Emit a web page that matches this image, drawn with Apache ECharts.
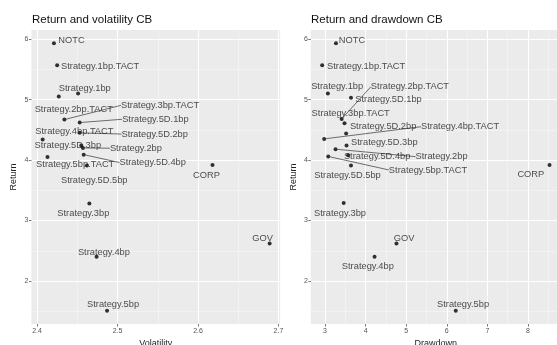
<!DOCTYPE html>
<html><head><meta charset="utf-8">
<script src="https://cdn.jsdelivr.net/npm/echarts@6/dist/echarts.min.js"></script>
<style>html,body{margin:0;padding:0;background:#fff}#c{width:557px;height:345px}</style>
</head><body><div id="c"></div>
<script>
// ---- data ----
const names = ['NOTC','Strategy.1bp.TACT','Strategy.1bp','Strategy.2bp.TACT','Strategy.3bp.TACT','Strategy.5D.1bp','Strategy.5D.2bp','Strategy.4bp.TACT','Strategy.5D.3bp','Strategy.2bp','Strategy.5D.4bp','Strategy.5bp.TACT','Strategy.5D.5bp','CORP','Strategy.3bp','GOV','Strategy.4bp','Strategy.5bp'];
// left panel: volatility vs return
const volatility = [2.421,2.425,2.451,2.427,2.434,2.453,2.453,2.407,2.455,2.457,2.458,2.413,2.462,2.618,2.465,2.689,2.474,2.487];
const volReturn  = [5.93,5.57,5.10,5.05,4.67,4.62,4.45,4.34,4.24,4.20,4.09,4.05,3.91,3.92,3.28,2.62,2.40,1.51];
// right panel: drawdown vs return
const drawdown   = [3.27,2.93,3.07,3.41,3.48,3.64,3.52,2.98,3.53,3.26,3.57,3.08,3.64,8.53,3.46,4.76,4.22,6.22];
const ddReturn   = [5.93,5.57,5.10,4.68,4.61,5.03,4.44,4.35,4.24,4.18,4.08,4.06,3.91,3.92,3.29,2.62,2.40,1.51];
// tick labels
const volTicks = [2.4,2.5,2.6,2.7];
const ddTicks  = [3,4,5,6,7,8];
const retTicks = [2,3,4,5,6];

// ---- label placement (style only, px offsets of label centre from its point) ----
const volLabelOffsets = {
 'NOTC':[17.5,-4],'Strategy.1bp.TACT':[43,0],'Strategy.1bp':[6.7,-6.7],'Strategy.2bp.TACT':[15,11],
 'Strategy.3bp.TACT':[95.7,-15.7],'Strategy.5D.1bp':[75.7,-4.8],'Strategy.5D.2bp':[75,-0.3],
 'Strategy.4bp.TACT':[31.7,-9.7],'Strategy.5D.3bp':[-13.5,-2],'Strategy.2bp':[53,-1.3],
 'Strategy.5D.4bp':[69,6.4],'Strategy.5bp.TACT':[27.7,6.3],'Strategy.5D.5bp':[7.3,13],
 'CORP':[-6,9],'Strategy.3bp':[-6,8.3],'GOV':[-7,-6.7],'Strategy.4bp':[7.3,-6],'Strategy.5bp':[6,-7.3]
};
const volSegments = ['Strategy.3bp.TACT','Strategy.5D.1bp','Strategy.5D.2bp','Strategy.2bp','Strategy.5D.4bp'];
const ddLabelOffsets = {
 'NOTC':[16,-4],'Strategy.1bp.TACT':[44,0],'Strategy.1bp':[9.3,-8.7],'Strategy.2bp.TACT':[68.3,-33.7],
 'Strategy.3bp.TACT':[6.2,-11.3],'Strategy.5D.1bp':[37.5,0.3],'Strategy.5D.2bp':[37,-8.7],
 'Strategy.4bp.TACT':[135.9,-13.7],'Strategy.5D.3bp':[37.8,-4.3],'Strategy.2bp':[106,6],
 'Strategy.5D.4bp':[29,0],'Strategy.5bp.TACT':[99.7,12],'Strategy.5D.5bp':[-3.5,8.7],
 'CORP':[-18.7,8.3],'Strategy.3bp':[-3.7,9],'GOV':[7.7,-6.7],'Strategy.4bp':[-6.7,8.3],'Strategy.5bp':[7.3,-7.4]
};
const ddSegments = ['Strategy.2bp.TACT','Strategy.4bp.TACT','Strategy.2bp','Strategy.5bp.TACT'];
const LABEL_DY = 1.5;

const FONT = '"Liberation Sans", Arial, sans-serif';

function buildData(xs, ys, segs){
  return names.map((n,i)=>({name:n, value:[xs[i], ys[i]], labelLine:{show: segs.indexOf(n)>=0}}));
}
function layoutFn(offsets){
  return function(p){ const o = offsets[names[p.dataIndex]] || [0,0]; return {dx:o[0], dy:o[1] + LABEL_DY}; };
}
function xAxisCfg(gi, min, max, split, ticks, title){
  return {
    type:'value', gridIndex:gi, min:min, max:max, splitNumber:split,
    name:title, nameLocation:'middle', nameGap:13.5,
    nameTextStyle:{fontSize:9, color:'#222', fontFamily:FONT},
    axisLine:{show:false},
    axisTick:{show:true, length:2.5, customValues:ticks, lineStyle:{color:'#555', width:0.8}},
    axisLabel:{fontSize:7, color:'#555', margin:3.5, fontFamily:FONT, customValues:ticks},
    splitLine:{show:true, lineStyle:{color:'#ffffff', width:1}},
    minorTick:{show:false, splitNumber:2},
    minorSplitLine:{show:true, lineStyle:{color:'#F6F6F6', width:0.6}}
  };
}
function yAxisCfg(gi){
  return {
    type:'value', gridIndex:gi, min:1.289, max:6.151, splitNumber:5,
    name:'Return', nameLocation:'middle', nameGap:13, nameRotate:90,
    nameTextStyle:{fontSize:9, color:'#222', fontFamily:FONT},
    axisLine:{show:false},
    axisTick:{show:true, length:2.5, customValues:retTicks, lineStyle:{color:'#555', width:0.8}},
    axisLabel:{fontSize:7, color:'#555', margin:3, fontFamily:FONT, customValues:retTicks},
    splitLine:{show:true, lineStyle:{color:'#ffffff', width:1}},
    minorTick:{show:false, splitNumber:2},
    minorSplitLine:{show:true, lineStyle:{color:'#F6F6F6', width:0.6}}
  };
}
function seriesCfg(idx, xs, ys, offsets, segs){
  return {
    type:'scatter', xAxisIndex:idx, yAxisIndex:idx,
    data: buildData(xs, ys, segs),
    symbol:'circle', symbolSize:4,
    itemStyle:{color:'#000'},
    label:{show:true, position:'inside', formatter:'{b}', fontSize:9.3, color:'#222',
           fontFamily:FONT, textBorderWidth:0, align:'center', verticalAlign:'middle'},
    labelLine:{show:false, lineStyle:{color:'#333', width:0.7}, smooth:false},
    labelLayout: layoutFn(offsets),
    emphasis:{disabled:true},
    silent:true
  };
}

const chart = echarts.init(document.getElementById('c'), null, {renderer:'canvas'});
chart.setOption({
  animation:false,
  backgroundColor:'#ffffff',
  title:[
    {text:'Return and volatility CB', left:32, top:14, padding:0,
     textStyle:{fontSize:11.5, fontWeight:'normal', color:'#111', fontFamily:FONT}},
    {text:'Return and drawdown CB', left:311, top:14, padding:0,
     textStyle:{fontSize:11.5, fontWeight:'normal', color:'#111', fontFamily:FONT}}
  ],
  grid:[
    {left:31.4, top:30, width:248.7, height:294, show:true, backgroundColor:'#EBEBEB', borderWidth:0,
     containLabel:false, outerBoundsMode:'none'},
    {left:310.8, top:30, width:250.1, height:294, show:true, backgroundColor:'#EBEBEB', borderWidth:0,
     containLabel:false, outerBoundsMode:'none'}
  ],
  xAxis:[
    xAxisCfg(0, 2.393, 2.702, 3, volTicks, 'Volatility'),
    xAxisCfg(1, 2.65, 8.81, 5, ddTicks, 'Drawdown')
  ],
  yAxis:[ yAxisCfg(0), yAxisCfg(1) ],
  series:[
    seriesCfg(0, volatility, volReturn, volLabelOffsets, volSegments),
    seriesCfg(1, drawdown, ddReturn, ddLabelOffsets, ddSegments)
  ]
});
</script>
</body></html>
